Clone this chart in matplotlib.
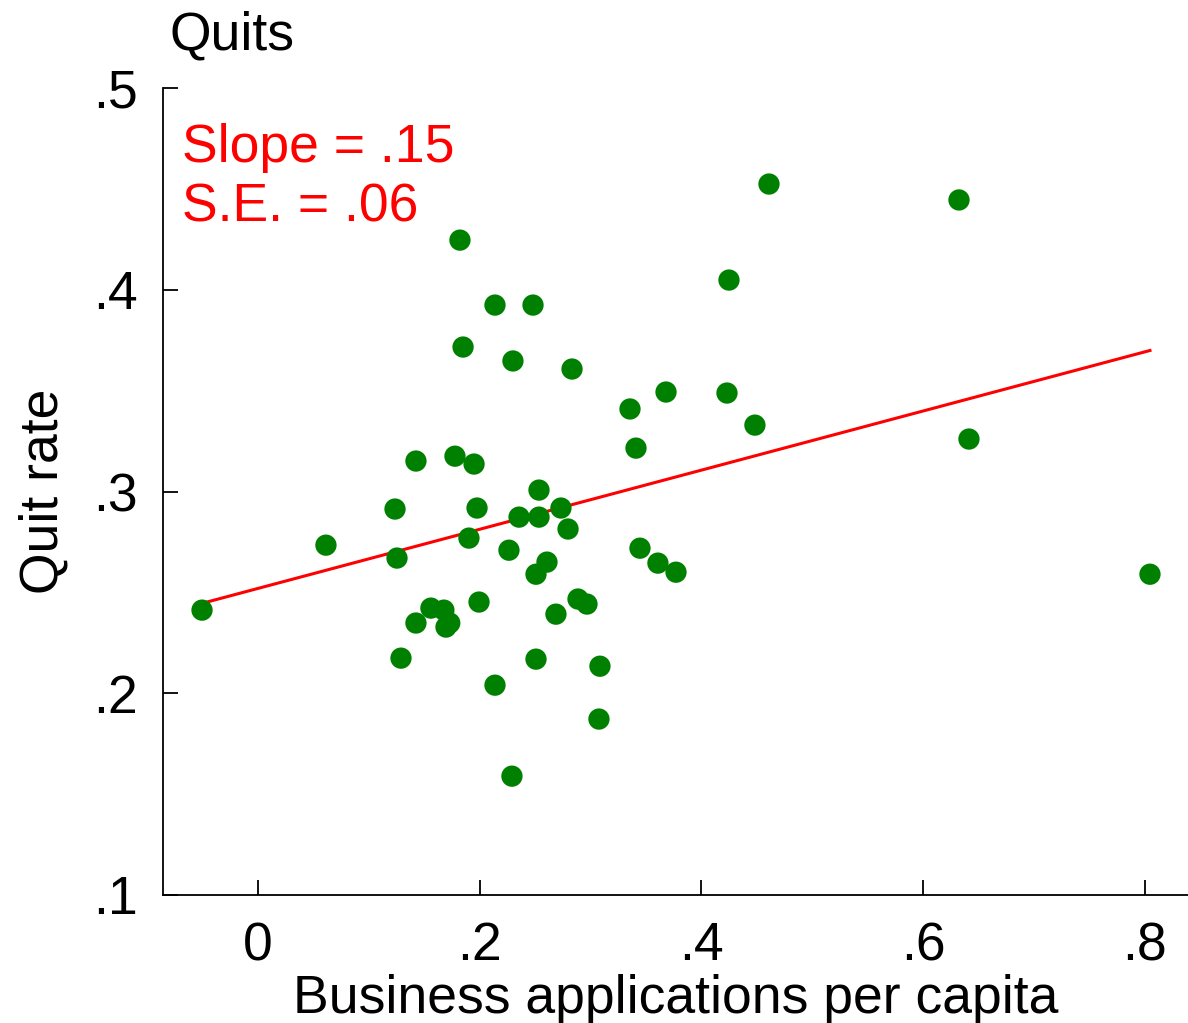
import numpy as np
import matplotlib
matplotlib.use("Agg")
import matplotlib.pyplot as plt

# business applications per capita (x) and quit rate (y)
apps = [-0.0505, 0.0613, 0.1236, 0.1254, 0.1290, 0.1425, 0.1425, 0.1560, 0.1677,
        0.1696, 0.1730, 0.1777, 0.1822, 0.1850, 0.1903, 0.1949, 0.1976, 0.1994,
        0.2138, 0.2138, 0.2264, 0.2300, 0.2291, 0.2355, 0.2481, 0.2508, 0.2508,
        0.2535, 0.2535, 0.2607, 0.2688, 0.2733, 0.2797, 0.2833, 0.2887, 0.2968,
        0.3076, 0.3085, 0.3356, 0.3410, 0.3446, 0.3608, 0.3681, 0.3771, 0.4231,
        0.4249, 0.4483, 0.4610, 0.6324, 0.6414, 0.8047]
quits = [0.2412, 0.2734, 0.2913, 0.2670, 0.2174, 0.3151, 0.2348, 0.2422, 0.2412,
         0.2328, 0.2348, 0.3175, 0.4246, 0.3716, 0.2769, 0.3136, 0.2918, 0.2452,
         0.3924, 0.2040, 0.2709, 0.3647, 0.1589, 0.2873, 0.3924, 0.2590, 0.2169,
         0.3007, 0.2873, 0.2650, 0.2392, 0.2918, 0.2814, 0.3607, 0.2467, 0.2442,
         0.1872, 0.2134, 0.3409, 0.3215, 0.2719, 0.2645, 0.3493, 0.2600, 0.3488,
         0.4048, 0.3329, 0.4524, 0.4445, 0.3260, 0.2590]

xticks = [0, 0.2, 0.4, 0.6, 0.8]
xticklabels = ['0', '.2', '.4', '.6', '.8']
yticks = [0.1, 0.2, 0.3, 0.4, 0.5]
yticklabels = ['.1', '.2', '.3', '.4', '.5']

plt.rcParams['font.family'] = ['Liberation Sans', 'DejaVu Sans']
fs = 38.5

fig = plt.figure(figsize=(11.88, 10.23), dpi=100)
ax = fig.add_axes([163/1188, 128/1023, 1 - 163/1188, (895-88)/1023])

x = np.array(apps)
y = np.array(quits)
ax.scatter(x, y, s=235, color='#008000', edgecolors='none', zorder=3)

# linear fit over the data range
b, a = np.polyfit(x, y, 1)
xs = np.array([x.min(), x.max()])
ax.plot(xs, a + b*xs, color='red', lw=2.2, zorder=2)

ax.set_xlim(-0.0857, 0.839)
ax.set_ylim(0.1, 0.5)
ax.set_xticks(xticks)
ax.set_xticklabels(xticklabels)
ax.set_yticks(yticks)
ax.set_yticklabels(yticklabels)
ax.tick_params(direction='in', length=11, width=1.3, labelsize=fs)
ax.tick_params(axis='x', pad=19)
ax.tick_params(axis='y', pad=18)

for side in ['top', 'right']:
    ax.spines[side].set_visible(False)
for side in ['left', 'bottom']:
    ax.spines[side].set_linewidth(1.3)

ax.set_xlabel('Business applications per capita', fontsize=fs, labelpad=2)
ax.set_ylabel('Quit rate', fontsize=fs, labelpad=18)

fig.text(170/1188, 1 - 35/1023, 'Quits', fontsize=fs, va='center', ha='left')
fig.text(182/1188, 1 - 148/1023, 'Slope = .15', fontsize=fs, color='red', va='center', ha='left')
fig.text(182/1188, 1 - 208/1023, 'S.E. = .06', fontsize=fs, color='red', va='center', ha='left')

fig.savefig('out.png', dpi=100, facecolor='white')
